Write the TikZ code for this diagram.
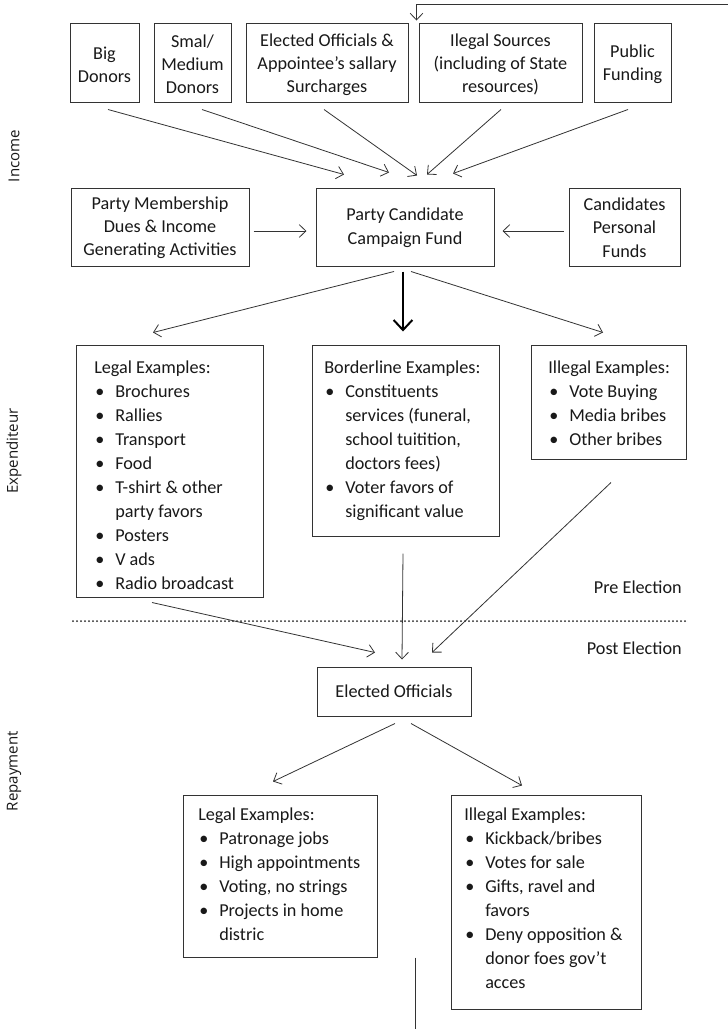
\documentclass[tikz,border=0pt]{standalone}
\usepackage{fontspec}
\setmainfont{Carlito}
\newfontfamily\sidefont{Open Sans}
\usetikzlibrary{arrows.meta,fit}
\newcommand\bi{\hspace*{0.75pt}\makebox[15pt][l]{•}}
\newcommand\ci{\hspace*{15.75pt}}
\begin{document}
\begin{tikzpicture}[x=0.75pt,y=-0.75pt,
 box/.style={draw=black!80, line width=0.75pt, inner sep=0pt},
 ctext/.style={inner sep=0pt, align=center, text=black!90,
   font=\fontsize{13.65pt}{17.4pt}\selectfont},
 list/.style={anchor=north west, inner sep=0pt, align=left, text=black!90,
   font=\fontsize{13.65pt}{18pt}\selectfont},
 arr/.style={draw=black!80, line width=0.6pt, -{Straight Barb[length=5pt,width=9.5pt,line width=0.6pt]}},
 bigarr/.style={draw=black, line width=1.5pt, -{Straight Barb[length=7.5pt,width=14pt,line width=1.5pt]}},
 plain/.style={draw=black!80, line width=0.6pt},
 dotline/.style={draw=black!85, line width=1.5pt, line cap=round, dash pattern=on 0pt off 3pt},
 side/.style={rotate=90, text=black!90, font=\sidefont\fontsize{11.3pt}{13pt}\selectfont},
 phase/.style={anchor=east, inner sep=0pt, text=black!90, font=\fontsize{13.65pt}{16pt}\selectfont}]
\fill[white] (0,0) rectangle (728,1029);
\useasboundingbox (0,0) rectangle (728,1029);

% side labels
\node[side] (inc) at (14,156) {Income};
\node[side] (exp) at (14,451) {Expenditeur};
\node[side] (rep) at (14,771) {Repayment};

% top row
\node[box, fit={(70,23)(139,102)}] (bd) {};
\node[box, fit={(154,23)(231,102)}] (smd) {};
\node[box, fit={(246,23)(408,102)}] (eoa) {};
\node[box, fit={(419,23)(582,102)}] (ils) {};
\node[box, fit={(594,23)(671,102)}] (pub) {};
\node[ctext] (bdt) at ([yshift=-1.5pt]bd.center) {Big\\Donors};
\node[ctext] (smdt) at ([yshift=-1.5pt]smd.center) {Smal/\\Medium\\Donors};
\node[ctext] (eoat) at ([yshift=-1.5pt]eoa.center) {Elected Officials \&\\Appointee’s sallary\\Surcharges};
\node[ctext] (ilst) at ([yshift=-1.5pt]ils.center) {Ilegal Sources\\(including of State\\resources)};
\node[ctext] (pubt) at ([yshift=-1.5pt]pub.center) {Public\\Funding};

% second row
\node[box, fit={(71,188)(249,266)}] (pm) {};
\node[box, fit={(316,188)(494,266)}] (pcf) {};
\node[box, fit={(569,188)(680,266)}] (cpf) {};
\node[ctext] (pmt) at ([yshift=-0.5pt]pm.center) {Party Membership\\Dues \& Income\\Generating Activities};
\node[ctext] (pcft) at ([yshift=-0.5pt]pcf.center) {Party Candidate\\Campaign Fund};
\node[ctext] (cpft) at ([yshift=-0.5pt]cpf.center) {Candidates\\Personal\\Funds};

% expenditure boxes
\node[box, fit={(76,345)(263,597)}] (exl) {};
\node[box, fit={(312,345)(499,536)}] (exb) {};
\node[box, fit={(531,345)(686,459)}] (exi) {};
\node[list] (exlt) at (94,356) {\strut Legal Examples:\\\bi Brochures\\\bi Rallies\\\bi Transport\\\bi Food\\\bi T-shirt \& other\\\ci party favors\\\bi Posters\\\bi V ads\\\bi Radio broadcast};
\node[list] (exbt) at (324,356) {\strut Borderline Examples:\\\bi Constituents\\\ci services (funeral,\\\ci school tuitition,\\\ci doctors fees)\\\bi Voter favors of\\\ci significant value};
\node[list] (exit) at (548,356) {\strut Illegal Examples:\\\bi Vote Buying\\\bi Media bribes\\\bi Other bribes};

% election divider
\coordinate (dl) at (73,621);
\coordinate (dr) at (687,621);
\draw[dotline] (dl) -- (dr);
\node[phase] (pre) at (682,587) {Pre Election};
\node[phase] (post) at (682,648) {Post Election};

% elected officials and repayment
\node[box, fit={(317,667)(471,716)}] (el) {};
\node[ctext] (elt) at (el.center) {Elected Officials};
\node[box, fit={(183,795)(377,957)}] (rl) {};
\node[box, fit={(451,795)(641,1009)}] (ri) {};
\node[list] (rlt) at (198,803) {\strut Legal Examples:\\\bi Patronage jobs\\\bi High appointments\\\bi Voting, no strings\\\bi Projects in home\\\ci distric};
\node[list] (rit) at (464,803) {\strut Illegal Examples:\\\bi Kickback/bribes\\\bi Votes for sale\\\bi Gifts, ravel and\\\ci favors\\\bi Deny opposition \&\\\ci donor foes gov’t\\\ci acces};

% connectors
\coordinate (loopR) at (728,4);
\draw[arr] (loopR) -| ([shift={(-2,-2)}]ils.north west);
\draw[arr] ([shift={(3.5,7)}]bd.south) -- ([shift={(-61,-13)}]pcf.north);
\draw[arr] ([shift={(9.5,7)}]smd.south) -- ([shift={(-16,-15)}]pcf.north);
\draw[arr] ([shift={(-3,7)}]eoa.south) -- ([shift={(12,-12)}]pcf.north);
\draw[arr] ([shift={(0.5,7)}]ils.south) -- ([shift={(22,-13)}]pcf.north);
\draw[arr] ([shift={(-4.5,7)}]pub.south) -- ([shift={(48,-14)}]pcf.north);
\draw[arr] ([shift={(4,4)}]pm.east) -- ([shift={(-9,4)}]pcf.west);
\draw[arr] ([shift={(-5,4)}]cpf.west) -- ([shift={(8,4)}]pcf.east);

\draw[arr] ([shift={(-11,5)}]pcf.south) -- ([shift={(-16.5,-12)}]exl.north);
\draw[bigarr] ([shift={(-2,5)}]pcf.south) -- ([shift={(-2.5,-13)}]exb.north);
\draw[arr] ([shift={(6,5)}]pcf.south) -- ([shift={(-5.5,-12)}]exi.north);

\draw[arr] ([shift={(-17.5,5)}]exl.south) -- ([shift={(-19,-14)}]el.north);
\draw[arr] ([shift={(-2.5,17)}]exb.south) -- ([shift={(8,-7)}]el.north);
\draw[arr] ([shift={(2.5,23)}]exi.south) -- ([shift={(38,-14)}]el.north);

\draw[arr] ([shift={(1,7)}]el.south) -- ([shift={(-7,-13)}]rl.north);
\draw[arr] ([shift={(17,7)}]el.south) -- ([shift={(-24,-9)}]ri.north);

\coordinate (bot) at (415,1029);
\draw[plain] ([shift={(135,0)}]rl.south) -- (bot);
\end{tikzpicture}
\end{document}
